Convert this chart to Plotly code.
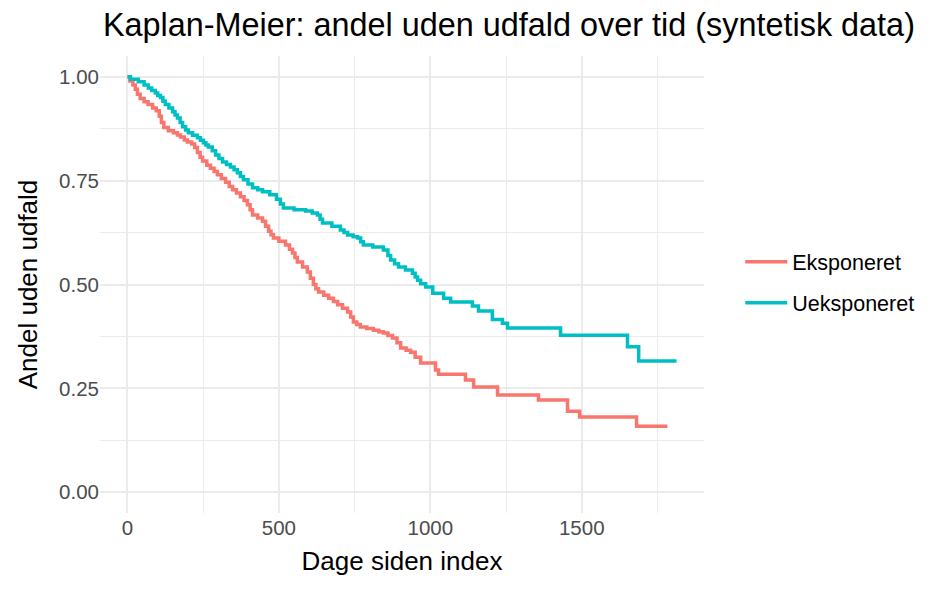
import plotly.graph_objects as go

# Eksponeret (exposed) KM step curve
exp_time = [0, 8, 18, 26, 33, 42, 55, 68, 83, 95, 105, 112, 120, 135, 152, 165, 175, 188, 198, 212,
            222, 231, 240, 248, 262, 274, 286, 297, 310, 324, 336, 347, 360, 373, 385, 396, 405, 413,
            430, 446, 456, 466, 474, 482, 500, 522, 535, 545, 553, 561, 578, 594, 604, 614, 622, 631,
            648, 664, 680, 694, 710, 727, 737, 746, 757, 769, 790, 812, 830, 845, 860, 875, 890, 902,
            920, 935, 950, 968, 1017, 1027, 1116, 1143, 1222, 1357, 1453, 1493, 1681, 1783]
exp_surv = [1.0, 0.99, 0.98, 0.97, 0.958, 0.948, 0.94, 0.933, 0.925, 0.918, 0.905, 0.89, 0.878, 0.87,
            0.865, 0.86, 0.855, 0.848, 0.843, 0.838, 0.83, 0.818, 0.806, 0.797, 0.787, 0.78, 0.772,
            0.764, 0.755, 0.746, 0.736, 0.728, 0.72, 0.711, 0.702, 0.692, 0.68, 0.667, 0.66, 0.652,
            0.64, 0.628, 0.62, 0.612, 0.604, 0.595, 0.585, 0.576, 0.565, 0.554, 0.542, 0.53, 0.515,
            0.5, 0.49, 0.482, 0.474, 0.467, 0.459, 0.451, 0.443, 0.434, 0.422, 0.41, 0.404, 0.398,
            0.394, 0.39, 0.386, 0.383, 0.377, 0.371, 0.36, 0.347, 0.342, 0.337, 0.325, 0.311, 0.294,
            0.284, 0.27, 0.253, 0.234, 0.222, 0.195, 0.181, 0.159, 0.159]

# Ueksponeret (unexposed) KM step curve
unexp_time = [0, 10, 36, 55, 69, 80, 92, 100, 109, 117, 125, 137, 149, 157, 165, 174, 182, 192, 201,
              215, 231, 241, 251, 259, 267, 280, 291, 302, 314, 327, 340, 352, 363, 373, 383, 398, 413,
              430, 446, 470, 492, 505, 515, 550, 588, 610, 627, 636, 644, 675, 703, 715, 727, 745, 760,
              770, 779, 810, 845, 860, 869, 882, 895, 918, 941, 950, 958, 968, 985, 1008, 1044, 1067,
              1139, 1159, 1205, 1238, 1255, 1430, 1651, 1688, 1813]
unexp_surv = [1.0, 0.994, 0.988, 0.98, 0.973, 0.967, 0.961, 0.955, 0.95, 0.941, 0.933, 0.925, 0.916,
              0.908, 0.901, 0.89, 0.88, 0.872, 0.865, 0.859, 0.853, 0.847, 0.841, 0.836, 0.831, 0.822,
              0.812, 0.803, 0.795, 0.789, 0.783, 0.776, 0.769, 0.76, 0.752, 0.742, 0.733, 0.728, 0.723,
              0.716, 0.705, 0.694, 0.684, 0.68, 0.677, 0.672, 0.667, 0.657, 0.648, 0.64, 0.631, 0.625,
              0.619, 0.615, 0.612, 0.603, 0.595, 0.59, 0.583, 0.57, 0.559, 0.55, 0.542, 0.535, 0.527,
              0.518, 0.51, 0.502, 0.494, 0.479, 0.467, 0.458, 0.448, 0.436, 0.416, 0.407, 0.395, 0.378,
              0.35, 0.316, 0.316]

groups = ["Eksponeret", "Ueksponeret"]
colors = ["#F8766D", "#00BFC4"]
x_ticks = [0, 500, 1000, 1500]
y_ticks = [0, 0.25, 0.5, 0.75, 1.0]

FONT = "Liberation Sans, Arial, sans-serif"

fig = go.Figure()
for name, t, s, c, g in [(groups[0], exp_time, exp_surv, colors[0], "a"),
                          (groups[1], unexp_time, unexp_surv, colors[1], "b")]:
    fig.add_trace(go.Scatter(x=t, y=s, mode="lines", name=name, legendgroup=g,
                             line=dict(color=c, width=3.5, shape="hv")))

grid = "#EBEBEB"
fig.update_layout(
    width=944, height=590,
    margin=dict(l=100, r=240, t=56, b=77),
    paper_bgcolor="white", plot_bgcolor="white",
    title=dict(text="Kaplan-Meier: andel uden udfald over tid (syntetisk data)",
               x=0.109, xref="container", xanchor="left", y=1 - 25 / 590, yref="container",
               yanchor="middle", font=dict(family=FONT, size=32.4, color="black")),
    legend=dict(x=1.06, xanchor="left", y=0.505, yanchor="middle",
                font=dict(family=FONT, size=21.5, color="black"),
                itemwidth=42,
                tracegroupgap=10, bgcolor="rgba(0,0,0,0)"),
    xaxis=dict(range=[-90.65, 1903.65], tickvals=x_ticks, ticktext=[str(v) for v in x_ticks],
               showgrid=True, gridcolor=grid, gridwidth=2.2, zeroline=False, showline=False,
               ticks="", tickfont=dict(family=FONT, size=20.5, color="#4D4D4D"),
               minor=dict(tickvals=[250, 750, 1250, 1750], showgrid=True, gridcolor=grid, gridwidth=1.1),
               title=dict(text="Dage siden index", font=dict(family=FONT, size=26, color="black"),
                          standoff=14)),
    yaxis=dict(range=[-0.05, 1.05], tickvals=y_ticks, ticktext=[f"{v:.2f}" for v in y_ticks],
               showgrid=True, gridcolor=grid, gridwidth=2.2, zeroline=False, showline=False,
               ticks="", tickfont=dict(family=FONT, size=20.5, color="#4D4D4D"),
               minor=dict(tickvals=[0.125, 0.375, 0.625, 0.875], showgrid=True, gridcolor=grid, gridwidth=1.1),
               title=dict(text="Andel uden udfald", font=dict(family=FONT, size=26, color="black"),
                          standoff=13)),
)

fig.write_html("out.html")
